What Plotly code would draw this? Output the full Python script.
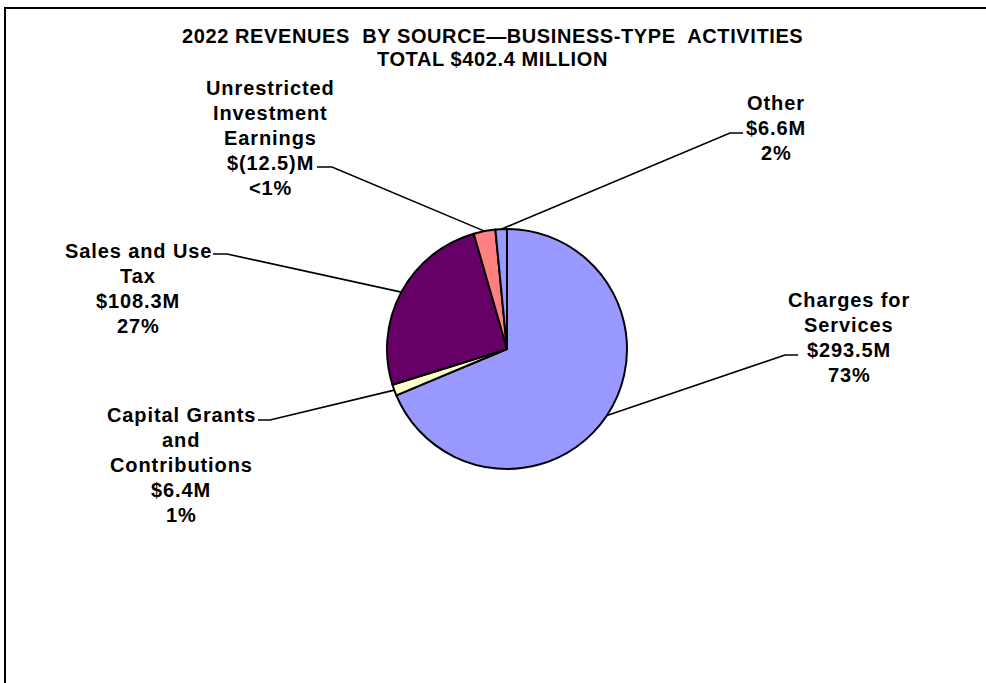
import numpy as np
import plotly.graph_objects as go

# Revenue sources, in millions of dollars (clockwise from 12 o'clock)
sources = ["Charges for Services", "Capital Grants and Contributions",
           "Sales and Use Tax", "Unrestricted Investment Earnings", "Other"]
amounts = [293.5, 6.4, 108.3, -12.5, 6.6]
pct_labels = ["73%", "1%", "27%", "<1%", "2%"]
amount_labels = ["$293.5M", "$6.4M", "$108.3M", "$(12.5)M", "$6.6M"]
name_lines = [["Charges for", "Services"],
              ["Capital Grants", "and", "Contributions"],
              ["Sales and Use", "Tax"],
              ["Unrestricted", "Investment", "Earnings"],
              ["Other"]]
colors = ["#9999FF", "#FFFFCC", "#660066", "#FF8080", "#9999FF"]
title_lines = ["2022 REVENUES&nbsp; BY SOURCE\u2014BUSINESS-TYPE&nbsp; ACTIVITIES",
               "TOTAL $402.4 MILLION"]

W, H = 986, 683
cx, cy, r = 507, 349, 120          # pie centre and radius in pixels
line_gap = 25                      # label line spacing in pixels

# label block centre x and first-line y, plus leader-line elbows (pixels)
label_pos = [(849, 300), (181, 415), (138, 251), (270, 88), (776, 103)]
elbows = [((798, 355), (785, 355)),
          ((258, 420), (270, 420)),
          ((213, 254), (227, 254)),
          ((317, 167), (332, 167)),
          ((743, 133), (730, 133))]


def px(x):
    return x / W


def py(y):
    return 1 - y / H


sizes = np.abs(np.array(amounts))
fig = go.Figure(go.Pie(
    labels=sources, values=sizes, sort=False, direction="clockwise",
    rotation=0, textinfo="none", hoverinfo="label+value",
    marker=dict(colors=colors, line=dict(color="black", width=2)),
    domain=dict(x=[px(cx - r), px(cx + r)], y=[py(cy + r), py(cy - r)]),
    showlegend=False,
))

shapes = [dict(type="rect", xref="paper", yref="paper",
               x0=px(5), x1=1.02, y0=-0.02, y1=py(8),
               line=dict(color="black", width=2), layer="below")]

# leader lines from each slice's mid-angle on the rim to its label
cum = np.cumsum(sizes) / sizes.sum()
mids = (cum - sizes / sizes.sum() / 2) * 2 * np.pi
annotations = []
font = dict(family="Liberation Sans, Arial, sans-serif", size=20,
            color="black", weight="bold")
for i in range(len(sources)):
    ex = cx + r * np.sin(mids[i])
    ey = cy - r * np.cos(mids[i])
    (ax0, ay0), (ax1, ay1) = elbows[i]
    path = (f"M {px(ax0)},{py(ay0)} L {px(ax1)},{py(ay1)} "
            f"L {px(ex)},{py(ey)}")
    shapes.append(dict(type="path", xref="paper", yref="paper", path=path,
                       line=dict(color="black", width=1.6)))
    lines = name_lines[i] + [amount_labels[i], pct_labels[i]]
    lx, ly = label_pos[i]
    for k, t in enumerate(lines):
        annotations.append(dict(
            x=px(lx), y=py(ly + k * line_gap), xref="paper", yref="paper",
            text=f'<span style="letter-spacing:0.9px">{t}</span>',
            showarrow=False, xanchor="center", yanchor="middle", font=font))

title_font = dict(family="Liberation Sans, Arial, sans-serif", size=20,
                  color="black", weight="bold")
for t, y in zip(title_lines, [36, 59]):
    annotations.append(dict(
        x=px(492), y=py(y), xref="paper", yref="paper", showarrow=False,
        text=f'<span style="letter-spacing:0.6px">{t}</span>',
        xanchor="center", yanchor="middle", font=title_font))

fig.update_layout(width=W, height=H, margin=dict(l=0, r=0, t=0, b=0),
                  paper_bgcolor="white", plot_bgcolor="white",
                  shapes=shapes, annotations=annotations)
fig.write_html("out.html")
